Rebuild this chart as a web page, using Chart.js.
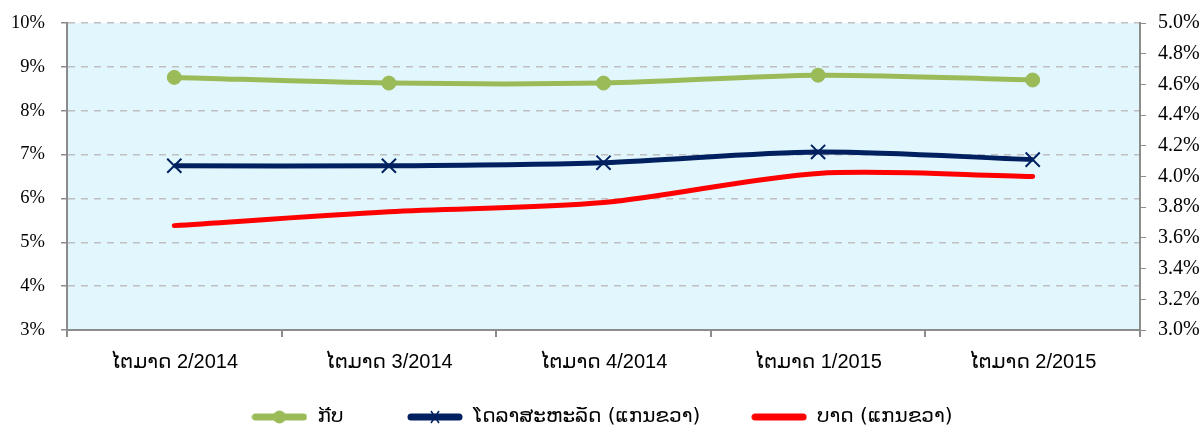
<!DOCTYPE html>
<html>
<head>
<meta charset="utf-8">
<script src="https://cdn.jsdelivr.net/npm/chart.js@4/dist/chart.umd.min.js"></script>
<style>
html,body{margin:0;padding:0;background:#fff;}
#wrap{width:1204px;height:437px;position:relative;}
</style>
</head>
<body>
<div id="wrap"><canvas id="c" width="1204" height="437"></canvas></div>
<script>
const categories = ['ໄຕມາດ 2/2014','ໄຕມາດ 3/2014','ໄຕມາດ 4/2014','ໄຕມາດ 1/2015','ໄຕມາດ 2/2015'];
const seriesNames = ['ກີບ','ໂດລາສະຫະລັດ (ແກນຂວາ)','ບາດ (ແກນຂວາ)'];
const kipValues = [8.76, 8.63, 8.63, 8.81, 8.70];
const usdValues = [4.07, 4.07, 4.09, 4.16, 4.11];
const thbValues = [3.68, 3.77, 3.83, 4.02, 4.00];
const leftTicks = [3,4,5,6,7,8,9,10];
const rightTicks = [3.0,3.2,3.4,3.6,3.8,4.0,4.2,4.4,4.6,4.8,5.0];

const GREEN='#9BBB59', NAVY='#002060', RED='#FF0000';
const LAO_FONT="'DejaVu Sans', 'Noto Sans', sans-serif";

function legendIcon(color, marker){
  const c=document.createElement('canvas');
  c.width=56; c.height=18;
  const g=c.getContext('2d');
  g.strokeStyle=color; g.lineWidth=7; g.lineCap='round';
  g.beginPath(); g.moveTo(4,9); g.lineTo(52,9); g.stroke();
  if(marker==='circle'){
    g.fillStyle=color; g.beginPath(); g.arc(28,9,6.5,0,Math.PI*2); g.fill();
  } else if(marker==='x'){
    g.lineWidth=1.5; g.lineCap='butt';
    g.beginPath(); g.moveTo(24,3); g.lineTo(32,15); g.moveTo(32,3); g.lineTo(24,15); g.stroke();
  }
  return c;
}
const icons=[legendIcon(GREEN,'circle'),legendIcon(NAVY,'x'),legendIcon(RED,null)];
const NB='\u00A0';
const legendTrail=[NB.repeat(10),NB.repeat(8),''];

const bgPlugin={
  id:'bg',
  beforeDraw(chart){
    const a=chart.chartArea, ctx=chart.ctx;
    ctx.save(); ctx.fillStyle='#E2F6FE';
    ctx.fillRect(a.left,a.top,a.right-a.left,a.bottom-a.top);
    ctx.restore();
  }
};

new Chart(document.getElementById('c'),{
  type:'line',
  data:{
    labels:categories,
    datasets:[
      {label:seriesNames[0],data:kipValues,yAxisID:'y',borderColor:GREEN,backgroundColor:GREEN,borderWidth:5,
       pointStyle:'circle',pointRadius:7,pointBorderWidth:1,pointBackgroundColor:GREEN,pointBorderColor:GREEN,tension:0.3},
      {label:seriesNames[1],data:usdValues,yAxisID:'y1',borderColor:NAVY,backgroundColor:NAVY,borderWidth:5,
       pointStyle:'crossRot',pointRadius:10,pointBorderWidth:2,pointBorderColor:NAVY,tension:0.3},
      {label:seriesNames[2],data:thbValues,yAxisID:'y1',borderColor:RED,backgroundColor:RED,borderWidth:5,
       pointRadius:0,tension:0.3,borderCapStyle:'round'}
    ]
  },
  options:{
    responsive:false,animation:false,
    layout:{padding:{top:23,bottom:0,left:0,right:0}},
    plugins:{
      legend:{position:'bottom',
        labels:{usePointStyle:true,pointStyleWidth:56,padding:0,color:'#000',
          font:{family:LAO_FONT,size:20},
          generateLabels(chart){
            return chart.data.datasets.map((d,i)=>({text:d.label+legendTrail[i],pointStyle:icons[i],fillStyle:d.borderColor,strokeStyle:d.borderColor,lineWidth:0,datasetIndex:i,fontColor:'#000'}));
          }}},
      tooltip:{enabled:false}
    },
    scales:{
      x:{type:'category',offset:true,
        grid:{offset:true,drawOnChartArea:false,tickLength:7,color:'#8c8c8c',lineWidth:2},
        border:{display:true,color:'#8c8c8c',width:2},
        ticks:{color:'#000',padding:13,font:{family:"'Liberation Sans', 'DejaVu Sans', sans-serif",size:20},maxRotation:0},
        afterFit(s){s.height=77;s.paddingLeft=0;s.paddingRight=0;}
      },
      y:{position:'left',min:3,max:10,
        afterBuildTicks(s){s.ticks=leftTicks.map(v=>({value:v}));},
        grid:{color:'#BFBFBF',lineWidth:1.5,tickLength:6,tickColor:'#8c8c8c'},
        border:{display:true,color:'#8c8c8c',width:2,dash:[7,6]},
        ticks:{color:'#000',padding:16,font:{family:"'Liberation Serif', serif",size:18.5},callback:v=>v+'%'},
        afterFit(s){s.width=67;s.paddingTop=0;s.paddingBottom=0;}
      },
      y1:{position:'right',min:3,max:5,
        afterBuildTicks(s){s.ticks=rightTicks.map(v=>({value:v}));},
        grid:{drawOnChartArea:false,tickLength:6,color:'#8c8c8c'},
        border:{display:true,color:'#8c8c8c',width:2},
        ticks:{color:'#000',padding:12,font:{family:"'Liberation Serif', serif",size:20},callback:v=>v.toFixed(1)+'%'},
        afterFit(s){s.width=64;s.paddingTop=0;s.paddingBottom=0;}
      }
    }
  },
  plugins:[bgPlugin]
});
</script>
</body>
</html>
